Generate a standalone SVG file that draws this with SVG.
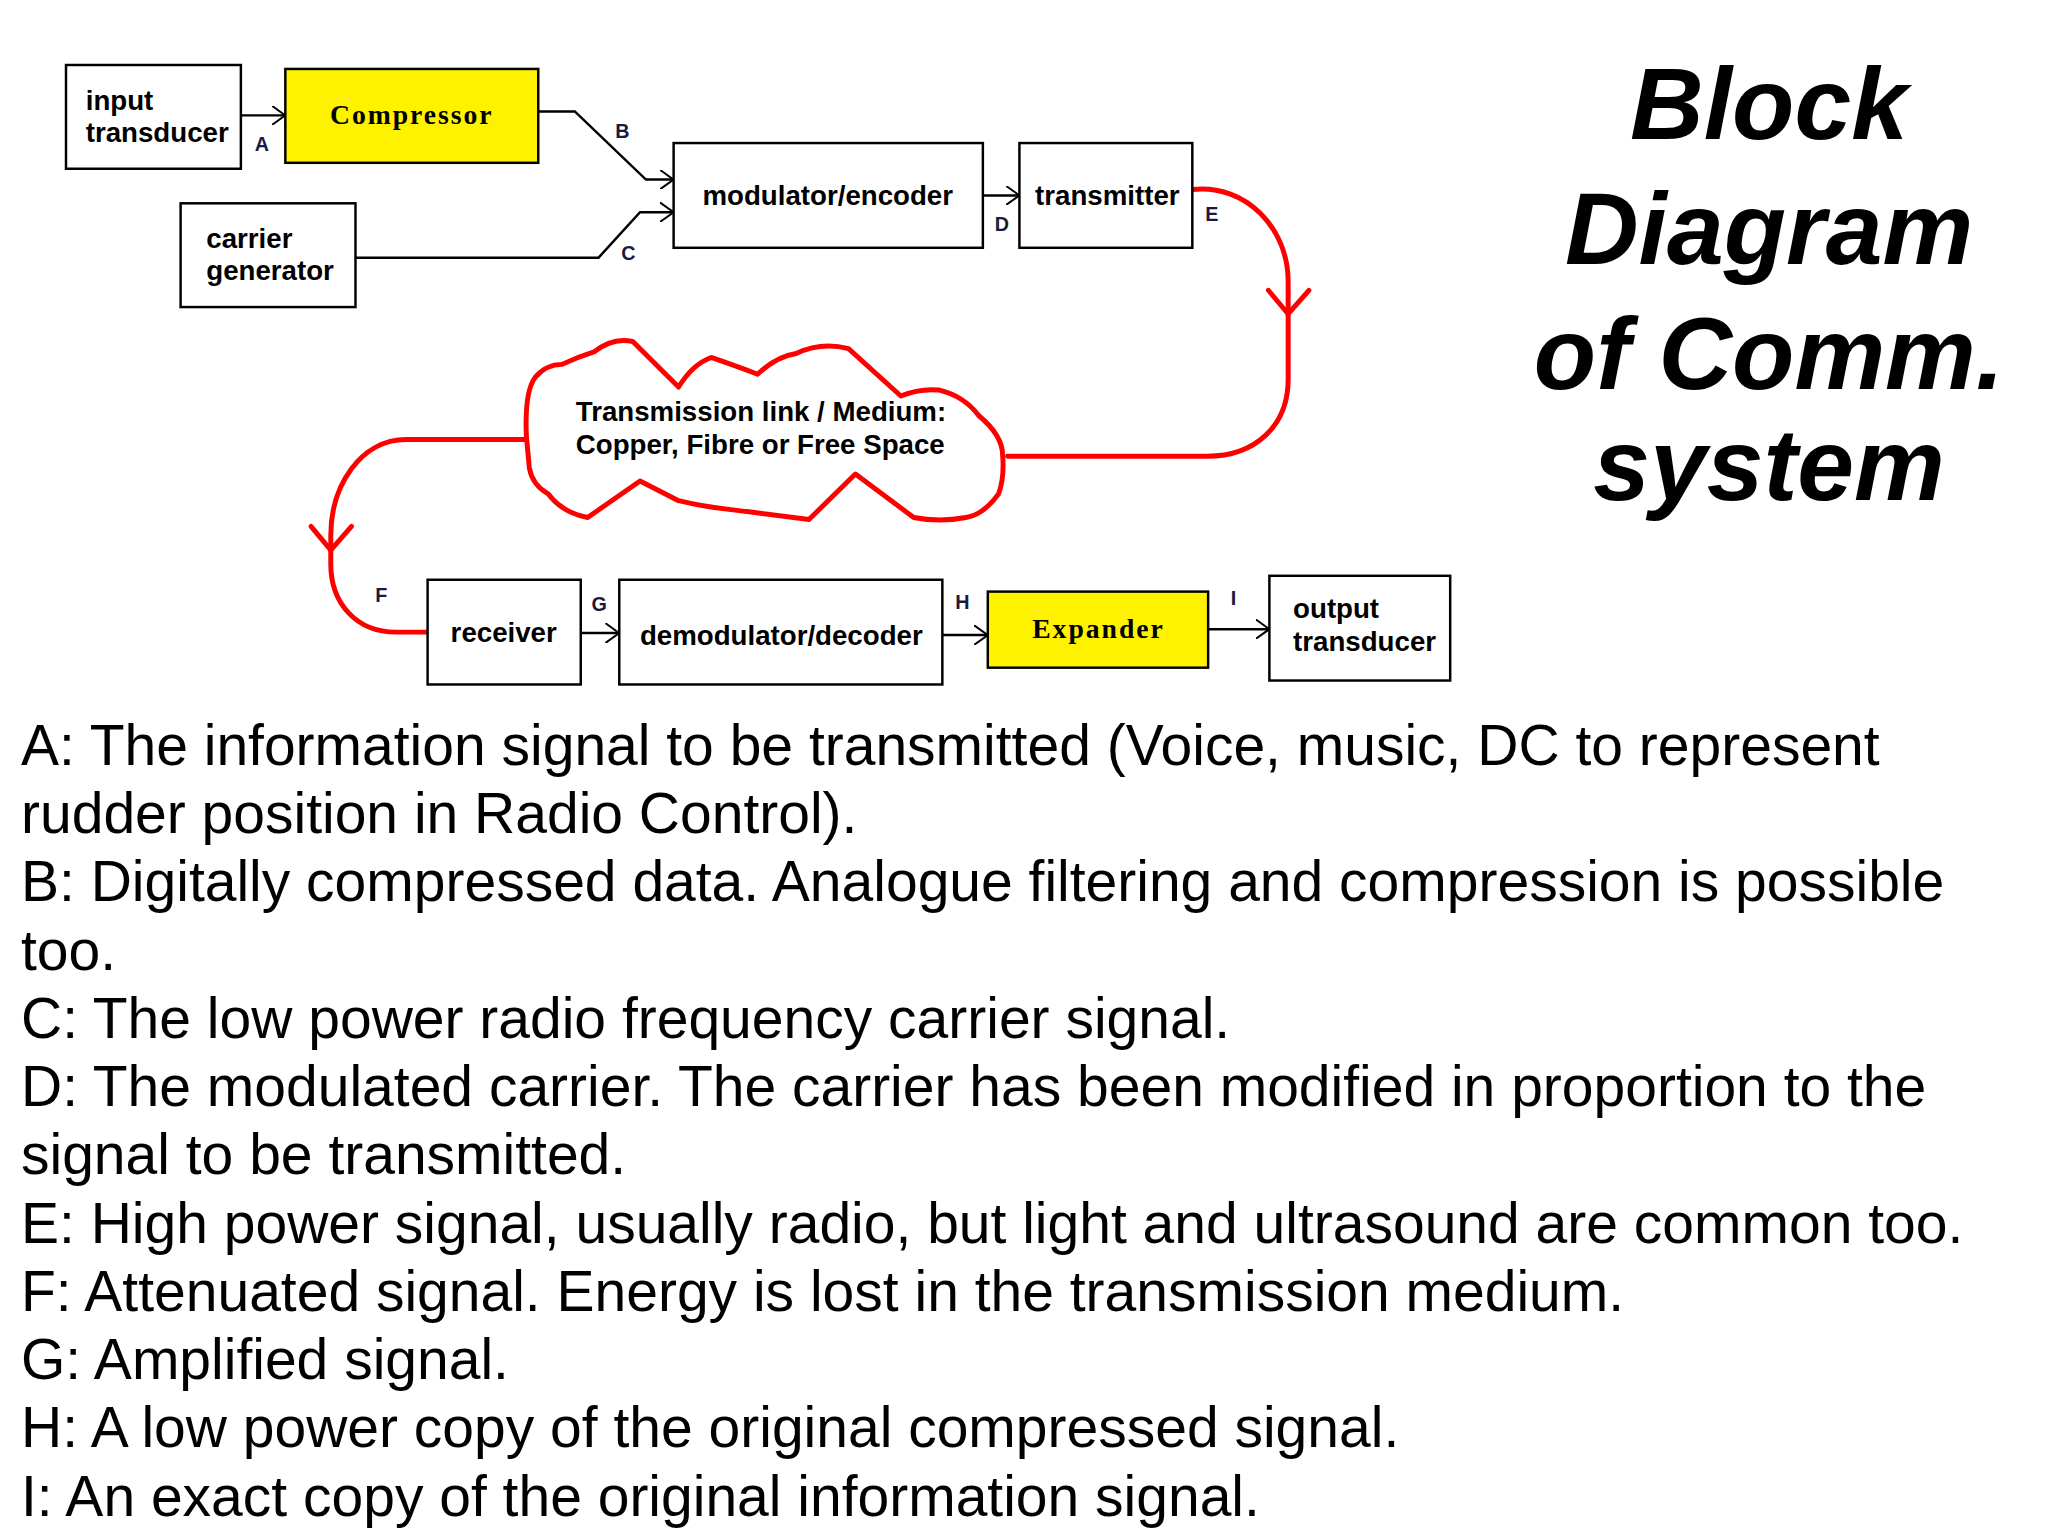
<svg xmlns="http://www.w3.org/2000/svg" width="2048" height="1536" viewBox="0 0 2048 1536">
<defs>
<style>
.box{fill:#fff;stroke:#000;stroke-width:2.5}
.yel{fill:#fff200;stroke:#000;stroke-width:2.5}
.lbl{font-family:"Liberation Sans",Arial,sans-serif;font-weight:bold;font-size:28px;fill:#000}
.mono{font-family:"Liberation Serif",serif;font-weight:bold;font-size:28px;fill:#000;letter-spacing:2px}
.let{font-family:"Liberation Sans",Arial,sans-serif;font-weight:bold;font-size:20px;fill:#1a1a40}
.ln{fill:none;stroke:#000;stroke-width:2.5}
.red{fill:none;stroke:#f00;stroke-width:5;stroke-linejoin:round;stroke-linecap:round}
.title{font-family:"Liberation Sans",Arial,sans-serif;font-weight:bold;font-style:italic;font-size:102px;fill:#000;text-anchor:middle}
.body{font-family:"Liberation Sans",Arial,sans-serif;font-size:57px;fill:#000}
</style>
<marker id="ah" viewBox="0 0 14 20" refX="14" refY="10" markerWidth="14" markerHeight="20" markerUnits="userSpaceOnUse" orient="auto"><path d="M0,0 L14,10 L0,20" fill="none" stroke="#000" stroke-width="2"/></marker>
</defs>
<rect width="2048" height="1536" fill="#fff"/>
<g transform="translate(66,65) scale(0.988) translate(-66,-65)">
<g id="connectors">
<line class="ln" x1="243" y1="116" x2="288" y2="116" marker-end="url(#ah)"/>
<polyline class="ln" points="544,112 581,112 653,181 681,181" marker-end="url(#ah)"/>
<polyline class="ln" points="359,260 605,260 647,214 681,214" marker-end="url(#ah)"/>
<line class="ln" x1="994" y1="197" x2="1031" y2="197" marker-end="url(#ah)"/>
<line class="ln" x1="587" y1="640" x2="626" y2="640" marker-end="url(#ah)"/>
<line class="ln" x1="953" y1="642" x2="999" y2="642" marker-end="url(#ah)"/>
<line class="ln" x1="1222" y1="636" x2="1284" y2="636" marker-end="url(#ah)"/>
<path class="red" d="M1206,191 C1260,185 1303,230 1303,284 L1303,383 C1303,430 1270,461 1221,461 L1019,461"/>
<polyline class="red" points="1283,293 1303,317 1324,293"/>
<path class="red" d="M532,444 L410,444 C365,444 334,490 334,541 L334,570 C334,610 360,639 400,639 L432,639"/>
<polyline class="red" points="314,532 334,556 355,532"/>
<text class="let" x="257" y="152">A</text>
<text class="let" x="622" y="139">B</text>
<text class="let" x="628" y="262">C</text>
<text class="let" x="1006" y="233">D</text>
<text class="let" x="1219" y="223">E</text>
<text class="let" x="379" y="609">F</text>
<text class="let" x="598" y="618">G</text>
<text class="let" x="966" y="616">H</text>
<text class="let" x="1245" y="612">I</text>
</g>
<g id="input-transducer"><rect class="box" x="66" y="65" width="177" height="105"/>
<text class="lbl" x="86" y="111">input</text><text class="lbl" x="86" y="143">transducer</text></g>
<g id="compressor"><rect class="yel" x="288" y="69" width="256" height="95"/>
<text class="mono" x="416" y="125" text-anchor="middle">Compressor</text></g>
<g id="carrier-generator"><rect class="box" x="182" y="205" width="177" height="105"/>
<text class="lbl" x="208" y="250">carrier</text><text class="lbl" x="208" y="283">generator</text></g>
<g id="modulator"><rect class="box" x="681" y="144" width="313" height="106"/>
<text class="lbl" x="837" y="207" text-anchor="middle">modulator/encoder</text></g>
<g id="transmitter"><rect class="box" x="1031" y="144" width="175" height="106"/>
<text class="lbl" x="1120" y="207" text-anchor="middle">transmitter</text></g>
<g id="medium">
<path class="red" d="M532,441 Q530,395 541,381 Q552,368 568,368 Q585,360 601,355 Q620,340 640,345 L686,391 Q700,368 719,361 Q745,370 766,378 Q785,360 805,357 Q830,345 858,352 L911,400 Q930,392 950,394 Q975,400 990,420 Q1014,440 1014,460 Q1016,482 1010,499 Q995,520 977,523 Q950,528 924,523 L865,479 L818,525 Q780,520 739,515 Q710,512 686,506 L647,486 L594,523 Q568,518 554,499 Q538,490 535,473 Z"/>
<text class="lbl" x="582" y="425">Transmission link / Medium:</text>
<text class="lbl" x="582" y="459">Copper, Fibre or Free Space</text></g>
<g id="receiver"><rect class="box" x="432" y="586" width="155" height="106"/>
<text class="lbl" x="509" y="649" text-anchor="middle">receiver</text></g>
<g id="demodulator"><rect class="box" x="626" y="586" width="327" height="106"/>
<text class="lbl" x="790" y="652" text-anchor="middle">demodulator/decoder</text></g>
<g id="expander"><rect class="yel" x="999" y="598" width="223" height="77"/>
<text class="mono" x="1111" y="645" text-anchor="middle">Expander</text></g>
<g id="output-transducer"><rect class="box" x="1284" y="582" width="183" height="106"/>
<text class="lbl" x="1308" y="625">output</text><text class="lbl" x="1308" y="658">transducer</text></g>
</g>
<g id="title">
<text class="title" x="1769" y="139">Block</text>
<text class="title" x="1769" y="264">Diagram</text>
<text class="title" x="1769" y="389">of Comm.</text>
<text class="title" x="1769" y="500">system</text>
</g>
<g id="legend">
<text class="body" x="21" y="765">A: The information signal to be transmitted (Voice, music, DC to represent</text>
<text class="body" x="21" y="833">rudder position in Radio Control).</text>
<text class="body" x="21" y="901">B: Digitally compressed data. Analogue filtering and compression is possible</text>
<text class="body" x="21" y="970">too.</text>
<text class="body" x="21" y="1038">C: The low power radio frequency carrier signal.</text>
<text class="body" x="21" y="1106">D: The modulated carrier. The carrier has been modified in proportion to the</text>
<text class="body" x="21" y="1174">signal to be transmitted.</text>
<text class="body" x="21" y="1243">E: High power signal, usually radio, but light and ultrasound are common too.</text>
<text class="body" x="21" y="1311">F: Attenuated signal. Energy is lost in the transmission medium.</text>
<text class="body" x="21" y="1379">G: Amplified signal.</text>
<text class="body" x="21" y="1447">H: A low power copy of the original compressed signal.</text>
<text class="body" x="21" y="1516">I: An exact copy of the original information signal.</text>
</g>
</svg>
